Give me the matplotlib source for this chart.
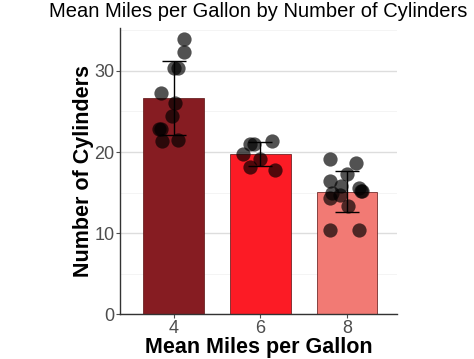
import matplotlib
matplotlib.use("Agg")
import matplotlib.pyplot as plt
import numpy as np

# dados (mtcars: mpg por cilindros)
cyl_labels = ["4", "6", "8"]
mean_mpg = [26.66, 19.74, 15.10]
sd_mpg = [4.51, 1.45, 2.56]
bar_colors = ["#861C22", "#FC1B25", "#F27A74"]

mpg_4 = [33.9, 32.4, 30.4, 30.4, 27.3, 26.0, 24.4, 22.8, 22.8, 21.4, 21.5]
jit_4 = [0.12, 0.12, 0.0, 0.05, -0.15, 0.02, -0.02, -0.17, -0.15, -0.13, 0.05]

mpg_6 = [21.0, 21.0, 21.4, 19.7, 19.2, 18.1, 17.8]
jit_6 = [-0.12, -0.07, 0.13, -0.2, 0.0, -0.12, 0.17]

mpg_8 = [19.2, 18.7, 17.3, 16.4, 15.8, 15.5, 15.0, 14.7, 15.2, 15.2, 14.3, 13.3, 10.4, 10.4]
jit_8 = [-0.2, 0.1, 0.0, -0.19, -0.07, 0.14, -0.17, -0.08, 0.16, 0.17, -0.19, 0.01, -0.2, 0.14]

plt.rcParams['font.family'] = ['Liberation Sans', 'DejaVu Sans']

fig = plt.figure(figsize=(4.74, 3.59), dpi=100)
ax = fig.add_axes([0.253, 0.125, 0.585, 0.797])

x = np.arange(len(cyl_labels))

# grade
for v in [5, 15, 25, 35]:
    ax.axhline(v, color="#F2F2F2", linewidth=0.6, zorder=0)
for v in [0, 10, 20, 30]:
    ax.axhline(v, color="#DDDDDD", linewidth=1.0, zorder=0)

ax.bar(x, mean_mpg, width=0.7, color=bar_colors, edgecolor="#5A1010",
       linewidth=0.5, zorder=2)

# pontos com jitter
grupos = [(mpg_4, jit_4), (mpg_6, jit_6), (mpg_8, jit_8)]
for i, (vals, jit) in enumerate(grupos):
    ax.scatter(np.array(jit) + i, vals, s=105, color="black", alpha=0.68,
               linewidths=0, zorder=3)

ax.errorbar(x, mean_mpg, yerr=sd_mpg, fmt="none", ecolor="black",
            elinewidth=1.0, capsize=8.5, capthick=1.0, zorder=4)

ax.set_xlim(-0.62, 2.58)
ax.set_ylim(0, 35.3)
ax.set_xticks(x)
ax.set_xticklabels(cyl_labels)
ax.set_yticks([0, 10, 20, 30])

for s in ["top", "right"]:
    ax.spines[s].set_visible(False)
for s in ["left", "bottom"]:
    ax.spines[s].set_color("#333333")
    ax.spines[s].set_linewidth(1.0)

ax.tick_params(axis="both", labelsize=13, colors="#4D4D4D", length=3,
               width=0.8, pad=1)

ax.set_title("Mean Miles per Gallon by Number of Cylinders", fontsize=14.5,
             pad=8)
ax.set_xlabel("Mean Miles per Gallon", fontsize=15.5, fontweight="bold",
              labelpad=0)
ax.set_ylabel("Number of Cylinders", fontsize=15.5, fontweight="bold",
              labelpad=0)

fig.savefig("out.png", dpi=100)
